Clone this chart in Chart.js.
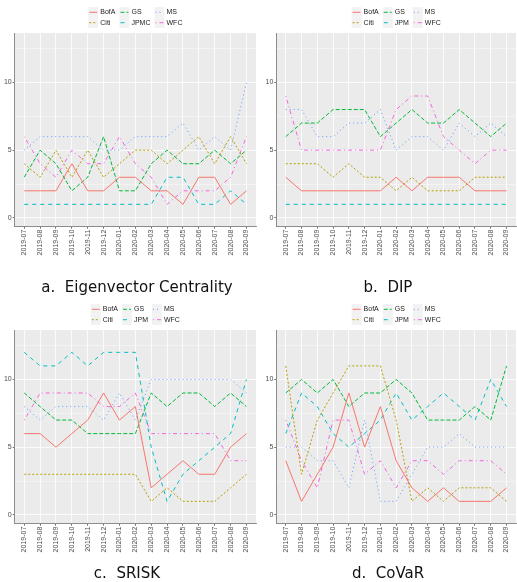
<!DOCTYPE html>
<html>
<head>
<meta charset="utf-8">
<script src="https://cdn.jsdelivr.net/npm/chart.js@4.4.0/dist/chart.umd.min.js"></script>
<style>
html, body { margin: 0; padding: 0; background: #fff; }
body { width: 517px; height: 582px; position: relative; overflow: hidden; }
canvas { position: absolute; }
.cap { position: absolute; font-family: 'DejaVu Sans', sans-serif; font-size: 15px; color: #111; white-space: pre; transform: translate(-50%, -50%); }
</style>
</head>
<body>
<canvas id="eig" width="258" height="297" style="left:0;top:0"></canvas>
<canvas id="dip" width="259" height="297" style="left:258px;top:0"></canvas>
<canvas id="srisk" width="258" height="285" style="left:0;top:297px"></canvas>
<canvas id="covar" width="259" height="285" style="left:258px;top:297px"></canvas>
<div class="cap" style="left:137px;top:287px">a.  Eigenvector Centrality</div>
<div class="cap" style="left:388px;top:287px">b.  DIP</div>
<div class="cap" style="left:127px;top:573px">c.  SRISK</div>
<div class="cap" style="left:388px;top:573px">d.  CoVaR</div>
<script>
const months = ['2019-07','2019-08','2019-09','2019-10','2019-11','2019-12','2020-01','2020-02','2020-03','2020-04','2020-05','2020-06','2020-07','2020-08','2020-09'];
const yTickVals = [0, 2.5, 5, 7.5, 10, 12.5];

// a. Eigenvector Centrality
const eigBofA = [2,2,2,4,2,2,3,3,2,2,1,3,3,1,2];
const eigCiti = [4,3,5,3,5,3,4,5,5,4,5,6,4,6,4];
const eigGS   = [3,5,4,2,3,6,2,2,4,5,4,4,5,4,5];
const eigJPMC = [1,1,1,1,1,1,1,1,1,3,3,1,1,2,1];
const eigMS   = [5,6,6,6,6,5,5,6,6,6,7,5,6,5,10];
const eigWFC  = [6,4,3,5,4,4,6,4,3,1,2,2,2,3,6];

// b. DIP
const dipBofA = [3,2,2,2,2,2,2,3,2,3,3,3,2,2,2];
const dipCiti = [4,4,4,3,4,3,3,2,3,2,2,2,3,3,3];
const dipGS   = [6,7,7,8,8,8,6,7,8,7,7,8,7,6,7];
const dipJPM  = [1,1,1,1,1,1,1,1,1,1,1,1,1,1,1];
const dipMS   = [8,8,6,6,7,7,8,5,6,6,5,7,6,7,6];
const dipWFC  = [9,5,5,5,5,5,5,8,9,9,6,5,4,5,5];

// c. SRISK
const sriskBofA = [6,6,5,6,7,9,7,8,2,3,4,3,3,5,6];
const sriskCiti = [3,3,3,3,3,3,3,3,1,2,1,1,1,2,3];
const sriskGS   = [9,8,7,7,6,6,6,6,9,8,9,9,8,9,8];
const sriskJPM  = [12,11,11,12,11,12,12,12,5,1,3,4,5,6,10];
const sriskMS   = [8,7,8,8,8,7,9,7,10,10,10,10,10,10,9];
const sriskWFC  = [7,9,9,9,9,8,8,9,6,6,6,6,6,4,4];

// d. CoVaR
const covarBofA = [4,1,3,5,9,5,8,4,2,1,2,1,1,1,2];
const covarCiti = [11,3,7,9,11,11,11,7,1,2,1,2,2,2,1];
const covarGS   = [9,10,9,10,8,9,9,10,9,7,7,7,8,7,11];
const covarJPM  = [6,9,8,6,5,6,7,9,7,8,9,8,7,10,8];
const covarMS   = [5,5,4,4,2,7,1,1,3,5,5,6,5,5,5];
const covarWFC  = [7,4,2,7,7,3,4,2,4,4,3,4,4,4,3];

const lineColors = ['#F8766D','#B79F00','#00BA38','#00BFC4','#619CFF','#F564E3'];
const lineDashes = [[], [2,2], [4,2], [4,4], [1,3], [1,3,4,3]];

const panelBg = {
  id: 'panelBg',
  beforeDraw(chart) {
    const {ctx, chartArea: a} = chart;
    ctx.save();
    ctx.fillStyle = '#EBEBEB';
    ctx.fillRect(a.left, a.top, a.right - a.left, a.bottom - a.top);
    ctx.restore();
  }
};

// ggplot-like legend: 3 columns x 2 rows of keys
const gridLegend = {
  id: 'gridLegend',
  afterDraw(chart) {
    const ctx = chart.ctx;
    const sets = chart.data.datasets;
    const keyW = 10, keyH = 10.4, gap = 2, colGap = 4, top = 7.1;
    ctx.save();
    ctx.font = '7px "Liberation Sans", Arial, sans-serif';
    const cols = [0, 1, 2].map(c => Math.max(
      ctx.measureText(sets[c * 2].label).width,
      ctx.measureText(sets[c * 2 + 1].label).width));
    const total = cols.reduce((s, w) => s + keyW + gap + w, 0) + colGap * 2;
    let x = (chart.chartArea.left + chart.chartArea.right) / 2 - total / 2;
    cols.forEach((tw, c) => {
      for (let r = 0; r < 2; r++) {
        const ds = sets[c * 2 + r];
        const y = top + r * keyH;
        ctx.fillStyle = '#F2F2F2';
        ctx.fillRect(x, y, keyW, keyH);
        ctx.strokeStyle = ds.borderColor;
        ctx.lineWidth = 1;
        ctx.setLineDash(ds.borderDash);
        ctx.beginPath();
        ctx.moveTo(x + 1, y + keyH / 2);
        ctx.lineTo(x + keyW - 1, y + keyH / 2);
        ctx.stroke();
        ctx.setLineDash([]);
        ctx.fillStyle = '#1A1A1A';
        ctx.textBaseline = 'middle';
        ctx.fillText(ds.label, x + keyW + gap, y + keyH / 2);
      }
      x += keyW + gap + tw + colGap;
    });
    ctx.restore();
  }
};

function makePanel(id, names, series, yAxisW, rightPad, xAxisH) {
  const ctx = document.getElementById(id).getContext('2d');
  return new Chart(ctx, {
    type: 'line',
    plugins: [panelBg, gridLegend],
    data: {
      datasets: series.map((vals, k) => ({
        label: names[k],
        data: vals.map((v, i) => ({x: i + 1, y: v})),
        borderColor: lineColors[k],
        borderDash: lineDashes[k],
        borderWidth: 1,
        pointRadius: 0,
        fill: false,
        tension: 0
      }))
    },
    options: {
      responsive: false,
      animation: false,
      layout: {padding: {top: 33, right: rightPad, left: 0, bottom: 0}},
      plugins: {legend: {display: false}, tooltip: {enabled: false}},
      scales: {
        x: {
          type: 'linear',
          min: 0.4,
          max: 15.6,
          afterBuildTicks: s => { s.ticks = months.map((m, i) => ({value: i + 1})); },
          afterFit: s => { s.height = xAxisH; },
          border: {display: true, color: '#8C8C8C', width: 1},
          grid: {color: '#FFFFFF', lineWidth: 0.8, tickColor: '#4D4D4D', tickLength: 2},
          ticks: {
            autoSkip: false,
            maxRotation: 90,
            minRotation: 90,
            padding: 1,
            color: '#4D4D4D',
            font: {family: '"Liberation Sans", Arial, sans-serif', size: 7},
            callback: v => months[v - 1]
          }
        },
        y: {
          min: -0.65,
          max: 13.65,
          afterBuildTicks: s => { s.ticks = yTickVals.map(v => ({value: v})); },
          afterFit: s => { s.width = yAxisW; },
          border: {display: true, color: '#8C8C8C', width: 1},
          grid: {
            color: '#FFFFFF',
            lineWidth: c => (c.tick && c.tick.value % 5 === 0) ? 0.8 : 0.4,
            tickColor: c => (c.tick && c.tick.value % 5 === 0) ? '#4D4D4D' : 'rgba(0,0,0,0)',
            tickLength: 2
          },
          ticks: {
            padding: 1,
            color: '#4D4D4D',
            font: {family: '"Liberation Sans", Arial, sans-serif', size: 7},
            callback: v => (v % 5 === 0 ? String(v) : '')
          }
        }
      }
    }
  });
}

makePanel('eig', ['BofA','Citi','GS','JPMC','MS','WFC'],
  [eigBofA, eigCiti, eigGS, eigJPMC, eigMS, eigWFC], 14.7, 2, 70.3);
makePanel('dip', ['BofA','Citi','GS','JPM','MS','WFC'],
  [dipBofA, dipCiti, dipGS, dipJPM, dipMS, dipWFC], 18.3, 1, 70.3);
makePanel('srisk', ['BofA','Citi','GS','JPM','MS','WFC'],
  [sriskBofA, sriskCiti, sriskGS, sriskJPM, sriskMS, sriskWFC], 14.7, 2, 58.3);
makePanel('covar', ['BofA','Citi','GS','JPM','MS','WFC'],
  [covarBofA, covarCiti, covarGS, covarJPM, covarMS, covarWFC], 18.3, 1, 58.3);
</script>
</body>
</html>
